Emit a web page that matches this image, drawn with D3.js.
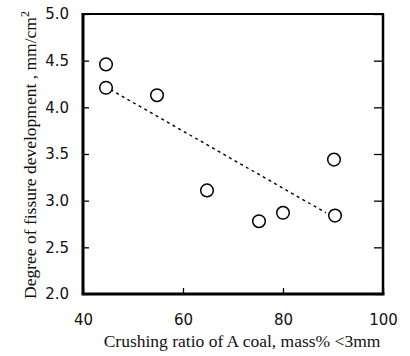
<!DOCTYPE html>
<html>
<head>
<meta charset="utf-8">
<script src="https://cdn.jsdelivr.net/npm/d3@7"></script>
<style>
  body { margin: 0; background: #fff; }
  .tick text { font-family: "DejaVu Sans", sans-serif; font-size: 15px; fill: #111; }
  .label { font-family: "Liberation Serif", "Times New Roman", serif; font-size: 17.5px; fill: #111; }
</style>
</head>
<body>
<div id="chart"></div>
<script>
// crushing ratio (mass% <3mm) vs degree of fissure development (mm/cm2)
var crushRatio = [44.6, 44.6, 54.8, 64.8, 75.2, 80.0, 90.2, 90.4];
var fissure    = [4.46, 4.21, 4.13, 3.11, 2.78, 2.87, 3.44, 2.84];
var trendX = [45.5, 88.6];
var trendY = [4.19, 2.87];
var xTicks = [40, 60, 80, 100];
var yTicks = [2.0, 2.5, 3.0, 3.5, 4.0, 4.5, 5.0];

var width = 410, height = 356;
var margin = {top: 14, right: 27, bottom: 62, left: 83};

var svg = d3.select("#chart")
  .append("svg")
    .attr("width", width)
    .attr("height", height);

var x = d3.scaleLinear()
  .domain([40, 100])
  .range([margin.left, width - margin.right]);

var y = d3.scaleLinear()
  .domain([2, 5])
  .range([height - margin.bottom, margin.top]);

// bottom axis, ticks pointing in
svg.append("g")
  .attr("transform", "translate(0," + y(2) + ")")
  .call(d3.axisBottom(x).tickValues(xTicks).tickFormat(d3.format("d")).tickSizeInner(-6).tickSizeOuter(0).tickPadding(20))
  .call(function(g){ g.select(".domain").remove(); })
  .call(function(g){ g.selectAll(".tick line").attr("stroke-width", 1.3); });

// left axis
svg.append("g")
  .attr("transform", "translate(" + x(40) + ",0)")
  .call(d3.axisLeft(y).tickValues(yTicks).tickFormat(d3.format(".1f")).tickSizeInner(-6).tickSizeOuter(0).tickPadding(14))
  .call(function(g){ g.select(".domain").remove(); })
  .call(function(g){ g.selectAll(".tick line").attr("stroke-width", 1.3); });

// right axis ticks
svg.append("g")
  .attr("transform", "translate(" + x(100) + ",0)")
  .call(d3.axisRight(y).tickValues(yTicks).tickFormat("").tickSizeInner(-9).tickSizeOuter(0))
  .call(function(g){ g.select(".domain").remove(); })
  .call(function(g){ g.selectAll(".tick line").attr("stroke-width", 1.3); });

// frame
var frame = svg.append("g").attr("fill", "none").attr("stroke", "#000");
frame.append("line").attr("x1", x(40)).attr("x2", x(40)).attr("y1", y(5)).attr("y2", y(2)).attr("stroke-width", 3);
frame.append("line").attr("x1", x(40) - 1.5).attr("x2", x(100) + 1.5).attr("y1", y(2)).attr("y2", y(2)).attr("stroke-width", 3);
frame.append("line").attr("x1", x(40) - 1.5).attr("x2", x(100) + 1).attr("y1", y(5)).attr("y2", y(5)).attr("stroke-width", 2.2);
frame.append("line").attr("x1", x(100)).attr("x2", x(100)).attr("y1", y(5)).attr("y2", y(2)).attr("stroke-width", 2.5);

// trend line
svg.append("line")
  .attr("x1", x(trendX[0])).attr("y1", y(trendY[0]))
  .attr("x2", x(trendX[1])).attr("y2", y(trendY[1]))
  .attr("stroke", "#000")
  .attr("stroke-width", 1.4)
  .attr("stroke-dasharray", "3,3.5");

// points
svg.append("g")
  .selectAll("circle")
  .data(crushRatio)
  .enter()
  .append("circle")
    .attr("cx", function(d) { return x(d); })
    .attr("cy", function(d, i) { return y(fissure[i]); })
    .attr("r", 6.3)
    .attr("fill", "#fff")
    .attr("stroke", "#000")
    .attr("stroke-width", 1.5);

// labels
svg.append("text")
  .attr("class", "label")
  .attr("text-anchor", "middle")
  .attr("x", 242)
  .attr("y", 347)
  .text("Crushing ratio of A coal, mass% <3mm");

var yl = svg.append("text")
  .attr("class", "label")
  .attr("text-anchor", "middle")
  .attr("transform", "translate(36," + 155 + ") rotate(-90)");
yl.append("tspan").text("Degree of fissure development , mm/cm");
yl.append("tspan").attr("dy", -7).attr("font-size", "12px").text("2");
</script>
</body>
</html>
